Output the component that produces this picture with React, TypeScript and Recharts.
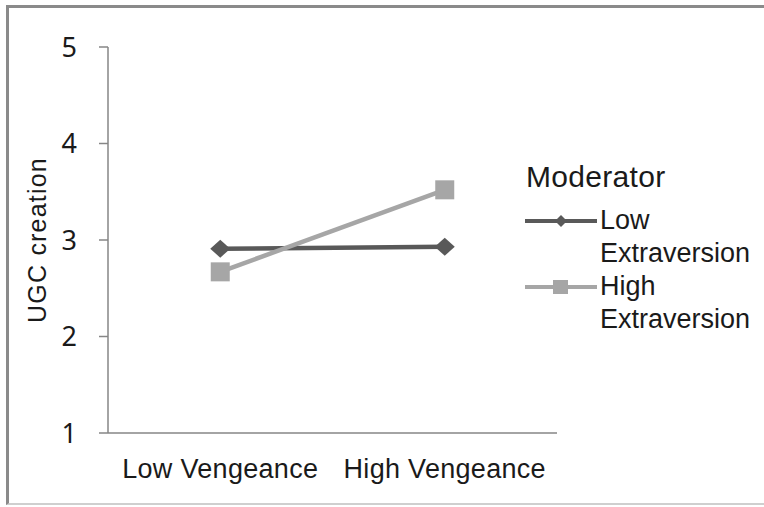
import { LineChart, Line, XAxis, YAxis } from 'recharts'

const categories = ['Low Vengeance', 'High Vengeance']
const lowExtraversion = [2.91, 2.93]
const highExtraversion = [2.67, 3.52]
const yTicks = [1, 2, 3, 4, 5]
const bandEdges = [0, 1, 2]
const labelCenters = [0.5, 1.5]

const series = [
  { key: 'low', name: 'Low Extraversion', lines: ['Low', 'Extraversion'], color: '#595959', shape: 'diamond' },
  { key: 'high', name: 'High Extraversion', lines: ['High', 'Extraversion'], color: '#a6a6a6', shape: 'square' },
]

const data = categories.map((c, i) => ({
  pos: i + 0.5,
  name: c,
  low: lowExtraversion[i],
  high: highExtraversion[i],
}))

const axisColor = '#868686'
const sans = '"Liberation Sans", Arial, sans-serif'

function Diamond(props: any) {
  const { cx, cy, fill } = props
  if (cx == null || cy == null) return null
  return <polygon points={`${cx},${cy - 9} ${cx + 10},${cy} ${cx},${cy + 9} ${cx - 10},${cy}`} fill={fill} />
}

function Square(props: any) {
  const { cx, cy, fill } = props
  if (cx == null || cy == null) return null
  return <rect x={cx - 9.5} y={cy - 9.5} width={19} height={19} fill={fill} />
}

function Legend() {
  return (
    <div style={{ position: 'absolute', left: 526, top: 160, fontFamily: sans, color: '#1a1a1a' }}>
      <div style={{ fontSize: 30, lineHeight: '34px', height: 34, letterSpacing: 0.3 }}>Moderator</div>
      <div style={{ height: 10 }} />
      {series.map((s) => (
        <div key={s.key} style={{ position: 'relative', paddingLeft: 74, fontSize: 27, lineHeight: '33px' }}>
          <svg width={74} height={20} style={{ position: 'absolute', left: -1, top: 7 }}>
            <line x1={0} y1={10} x2={72} y2={10} stroke={s.color} strokeWidth={4} />
            {s.shape === 'diamond' ? (
              <polygon points="36,4 42,10 36,16 30,10" fill={s.color} />
            ) : (
              <rect x={28} y={3} width={15} height={14} fill={s.color} />
            )}
          </svg>
          {s.lines.map((t) => (
            <div key={t}>{t}</div>
          ))}
        </div>
      ))}
    </div>
  )
}

export default function App() {
  return (
    <div style={{ position: 'absolute', left: 0, top: 0, width: 764, height: 507, background: '#fff' }}>
      <div
        style={{
          position: 'absolute',
          left: 6,
          top: 5,
          width: 764,
          height: 500,
          borderTop: '3px solid #8a8a8a',
          borderLeft: '3px solid #8a8a8a',
          borderBottom: '2px solid #cfcfcf',
          boxSizing: 'border-box',
        }}
      />
      <div style={{ position: 'absolute', left: 0, top: 0 }}>
        <LineChart width={764} height={507} data={data} margin={{ top: 47, right: 207, bottom: 14, left: 0 }}>
          <XAxis
            xAxisId="edges"
            type="number"
            dataKey="pos"
            domain={[0, 2]}
            ticks={bandEdges}
            height={1}
            tick={false}
            tickSize={9}
            stroke={axisColor}
            axisLine={{ stroke: axisColor, strokeWidth: 1.5 }}
            tickLine={{ stroke: axisColor, strokeWidth: 1.5 }}
          />
          <XAxis
            xAxisId="labels"
            type="number"
            dataKey="pos"
            domain={[0, 2]}
            ticks={labelCenters}
            height={59}
            axisLine={false}
            tickLine={false}
            tickSize={0}
            tickMargin={25}
            tickFormatter={(v: number) => categories[Math.floor(v)]}
            tick={{ fontSize: 27, fill: '#1a1a1a', fontFamily: sans, letterSpacing: 0.3 }}
          />
          <YAxis
            domain={[1, 5]}
            ticks={yTicks}
            width={108}
            tickSize={9}
            tickMargin={22}
            axisLine={{ stroke: axisColor, strokeWidth: 1.5 }}
            tickLine={{ stroke: axisColor, strokeWidth: 1.5 }}
            tick={{ fontSize: 27, fill: '#1a1a1a', fontFamily: '"Noto Sans", "Open Sans", sans-serif' }}
            label={{
              value: 'UGC creation',
              angle: -90,
              position: 'center',
              dx: -17,
              style: { fontSize: 25, fill: '#1a1a1a', fontFamily: sans, letterSpacing: 1.2 },
            }}
          />
          <Line
            xAxisId="edges"
            dataKey="low"
            name="Low Extraversion"
            stroke="#595959"
            strokeWidth={4.5}
            dot={<Diamond fill="#595959" />}
            isAnimationActive={false}
          />
          <Line
            xAxisId="edges"
            dataKey="high"
            name="High Extraversion"
            stroke="#a6a6a6"
            strokeWidth={4.5}
            dot={<Square fill="#a6a6a6" />}
            isAnimationActive={false}
          />
        </LineChart>
      </div>
      <Legend />
    </div>
  )
}
